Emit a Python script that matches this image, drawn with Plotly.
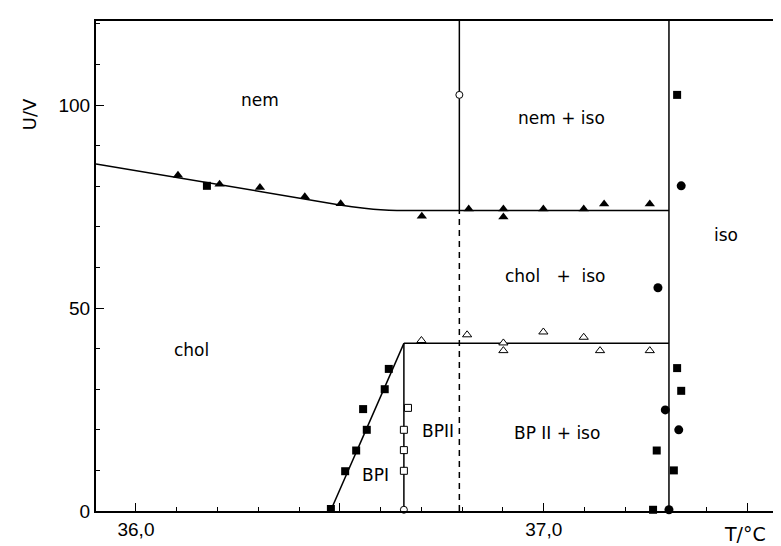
import plotly.graph_objects as go

# ---- data (T in °C, U in V) ----
# nem / chol boundary curve
nem_chol_T = [35.902, 36.50, 36.56, 36.60, 36.64, 37.307]
nem_chol_U = [85.5, 75.4, 74.6, 74.2, 74.0, 74.0]

# BPI / chol slanted boundary
bpi_T = [36.477, 36.657]
bpi_U = [0.0, 41.3]
# BPI / BPII vertical boundary
bpii_T = [36.657, 36.657]
bpii_U = [0.0, 41.3]
# BP / chol+iso horizontal boundary
bp_top_T = [36.657, 37.307]
bp_top_U = [41.3, 41.3]
# solid vertical boundary nem | nem+iso
v1_T = [36.793, 36.793]
v1_U = [74.0, 120.7]
# dashed vertical boundary
v1d_T = [36.793, 36.793]
v1d_U = [0.0, 74.0]
# right vertical boundary (iso)
v2_T = [37.307, 37.307]
v2_U = [0.0, 120.7]

# filled triangles
tri_T = [36.103, 36.205, 36.304, 36.414, 36.502, 36.701, 36.816, 36.901, 36.901,
         36.999, 37.098, 37.148, 37.260]
tri_U = [82.7, 80.5, 79.7, 77.4, 75.7, 72.6, 74.4, 74.4, 72.4, 74.4, 74.4, 75.6, 75.6]

# open triangles
otri_T = [36.700, 36.812, 36.901, 36.901, 36.999, 37.098, 37.138, 37.260]
otri_U = [42.0, 43.4, 41.4, 39.5, 44.1, 42.8, 39.5, 39.5]

# filled squares
sq_T = [36.174, 36.620, 36.610, 36.557, 36.566, 36.540, 36.513, 36.478,
        37.327, 37.327, 37.337, 37.277, 37.319, 37.268]
sq_U = [80.1, 35.0, 30.0, 25.1, 20.0, 14.9, 9.8, 0.5,
        102.5, 35.2, 29.6, 14.9, 10.0, 0.3]

# open squares
osq_T = [36.667, 36.657, 36.657, 36.657]
osq_U = [25.4, 20.0, 15.0, 9.9]

# filled circles
circ_T = [37.337, 37.280, 37.298, 37.331, 37.307]
circ_U = [80.1, 55.0, 24.9, 20.0, 0.3]

# open circles
ocirc_T = [36.793, 36.657]
ocirc_U = [102.5, 0.3]

# region labels
NB = "\u00a0"
lab_text = ["nem", "nem + iso", "iso", f"chol{NB}{NB} +{NB}{NB}iso", "chol",
            "BPI", "BPII", "BP II + iso"]
lab_T = [36.305, 37.044, 37.447, 37.029, 36.137, 36.587, 36.741, 37.032]
lab_U = [101.2, 96.8, 68.0, 57.9, 39.7, 8.9, 19.7, 19.2]

xtick_vals = [36.0, 36.5, 37.0, 37.5]
xtick_text = ["36,0", "", "37,0", ""]
ytick_vals = [0, 50, 100]
ytick_text = ["0", "50", "100"]

FONT = "DejaVu Sans, Verdana, sans-serif"
TFONT = "Liberation Sans, Arial, sans-serif"

fig = go.Figure()

def line(xs, ys, dash="solid"):
    fig.add_trace(go.Scatter(x=xs, y=ys, mode="lines",
                             line=dict(color="black", width=1.5, dash=dash),
                             hoverinfo="skip", showlegend=False))

fig.add_trace(go.Scatter(x=nem_chol_T, y=nem_chol_U, mode="lines",
                         line=dict(color="black", width=1.5, shape="spline", smoothing=0.6),
                         showlegend=False))
line(bpi_T, bpi_U)
line(bpii_T, bpii_U)
line(bp_top_T, bp_top_U)
line(v1_T, v1_U)
line(v1d_T, v1d_U, dash="6px,5px")
line(v2_T, v2_U)

def pts(xs, ys, symbol, size, open_=False):
    fig.add_trace(go.Scatter(
        x=xs, y=ys, mode="markers", cliponaxis=False,
        marker=dict(symbol=symbol, size=size,
                    color="white" if open_ else "black",
                    line=dict(color="black", width=1 if open_ else 0)),
        showlegend=False))

pts(tri_T, tri_U, "triangle-up", 9)
pts(otri_T, otri_U, "triangle-up", 8, open_=True)
pts(sq_T, sq_U, "square", 8)
pts(osq_T, osq_U, "square", 7, open_=True)
pts(circ_T, circ_U, "circle", 9)
pts(ocirc_T, ocirc_U, "circle", 7, open_=True)

for t, x, y in zip(lab_text, lab_T, lab_U):
    fig.add_annotation(x=x, y=y, text=t, showarrow=False,
                       font=dict(family=FONT, size=17, color="black"))

fig.add_annotation(xref="paper", yref="paper", x=-0.097, y=0.81, text="U/V",
                   textangle=-90, showarrow=False, xanchor="center", yanchor="middle",
                   font=dict(family=FONT, size=18, color="black"))
fig.add_annotation(xref="paper", yref="paper", x=0.94, y=-0.046, text="T/°C",
                   showarrow=False, xanchor="center", yanchor="middle",
                   font=dict(family=FONT, size=19, color="black"))

fig.update_xaxes(range=[35.902, 37.594], showgrid=False, zeroline=False,
                 showline=True, linecolor="black", linewidth=2, mirror=True,
                 tickvals=xtick_vals, ticktext=xtick_text,
                 ticks="inside", ticklen=8, tickwidth=1.2, tickcolor="black",
                 minor=dict(dtick=0.1, tick0=36.0, ticks="inside", ticklen=4,
                            tickwidth=1, tickcolor="black"),
                 tickfont=dict(family=TFONT, size=19, color="black"))
fig.update_yaxes(range=[0, 120.7], showgrid=False, zeroline=False,
                 showline=True, linecolor="black", linewidth=2, mirror=True,
                 tickvals=ytick_vals, ticktext=ytick_text,
                 ticks="inside", ticklen=8, tickwidth=1.2, tickcolor="black",
                 minor=dict(dtick=10, tick0=0, ticks="inside", ticklen=4,
                            tickwidth=1, tickcolor="black"),
                 tickfont=dict(family=TFONT, size=19, color="black"))

fig.update_layout(width=781, height=546,
                  margin=dict(l=88, r=1, t=13, b=43),
                  paper_bgcolor="white", plot_bgcolor="white",
                  showlegend=False)

fig.write_html("out.html")
